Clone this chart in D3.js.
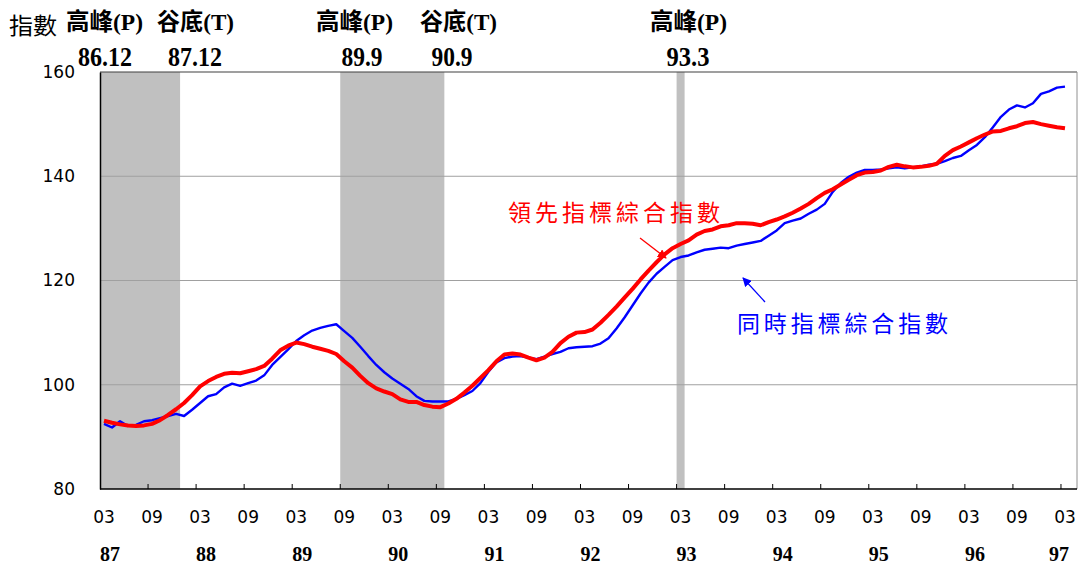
<!DOCTYPE html>
<html><head><meta charset="utf-8">
<script src="https://cdn.jsdelivr.net/npm/d3@7"></script>
<style>body{margin:0;background:#fff}svg{display:block}</style>
</head><body><svg id="c" width="1080" height="565"></svg>
<script>
// ---- data ----
const years = ["87","88","89","90","91","92","93","94","95","96","97"];
const monthTicks = ["03","09"];
const leading = [93.1,92.7,92.4,92.2,92.1,92.2,92.5,93.2,94.2,95.3,96.5,98.0,99.7,100.7,101.5,102.1,102.3,102.2,102.6,103.0,103.6,105.0,106.6,107.5,108.1,107.8,107.3,106.9,106.5,105.9,104.5,103.3,101.7,100.3,99.3,98.7,98.2,97.2,96.7,96.7,96.1,95.8,95.7,96.4,97.3,98.5,99.8,101.3,102.8,104.5,105.8,106.0,105.8,105.2,104.7,105.2,106.3,108.0,109.2,110.0,110.1,110.6,111.9,113.4,115.0,116.7,118.4,120.2,121.9,123.5,125.0,126.2,127.0,127.7,128.8,129.5,129.8,130.4,130.6,131.0,131.0,130.9,130.6,131.2,131.7,132.3,133.0,133.8,134.7,135.8,136.8,137.5,138.4,139.3,140.2,140.7,140.8,141.1,141.8,142.2,141.9,141.7,141.8,142.0,142.4,143.9,145.0,145.7,146.5,147.3,148.0,148.6,148.7,149.2,149.6,150.2,150.4,150.0,149.7,149.4,149.2];
const coincident = [92.5,91.8,93.0,92.1,92.3,93.0,93.2,93.6,94.0,94.4,94.0,95.2,96.5,97.8,98.2,99.5,100.2,99.8,100.3,100.8,101.8,103.8,105.3,106.8,108.4,109.5,110.4,110.9,111.3,111.6,110.3,109.0,107.3,105.5,103.8,102.4,101.2,100.2,99.2,97.8,96.9,96.8,96.8,96.8,97.3,98.0,98.8,100.3,102.5,104.3,105.1,105.4,105.5,105.2,104.9,105.4,105.9,106.3,107.0,107.2,107.3,107.4,107.9,108.9,110.8,112.9,115.2,117.5,119.6,121.3,122.6,123.9,124.5,124.8,125.4,125.9,126.1,126.3,126.2,126.7,127.0,127.3,127.6,128.6,129.6,131.0,131.5,131.9,132.8,133.6,134.7,137.0,138.7,139.9,140.7,141.2,141.2,141.3,141.5,141.7,141.5,141.7,141.9,142.2,142.4,142.9,143.5,143.9,145.0,146.0,147.5,149.4,151.4,152.8,153.6,153.2,154.0,155.8,156.3,157.0,157.2];
const yTicks = [80,100,120,140,160];
// turning points
const turnLabels = ["高峰(P)","谷底(T)","高峰(P)","谷底(T)","高峰(P)"];
const turnDates = ["86.12","87.12","89.9","90.9","93.3"];
const shadeRanges = [["87.03","87.12"],["89.09","90.09"],["93.03","93.03"]];
const leadName = "領先指標綜合指數";
const coinName = "同時指標綜合指數";

// months 87.03 .. 97.04 (last category empty)
const months = [];
for (let y = 87; y <= 97; y++) for (let m = 1; m <= 12; m++) {
  if ((y === 87 && m < 3) || (y === 97 && m > 4)) continue;
  months.push(y + "." + String(m).padStart(2, "0"));
}

const svg = d3.select("#c");
const L = 100, R = 1077, T = 72, B = 489;
const x = d3.scaleBand().domain(months).range([L, R]).padding(0);
const y = d3.scaleLinear().domain([80, 160]).range([B, T]);
const cx = k => x(k) + x.bandwidth() / 2;

// shading
svg.append("g").selectAll("rect").data(shadeRanges).join("rect")
  .attr("x", d => x(d[0])).attr("width", d => x(d[1]) + x.bandwidth() - x(d[0]))
  .attr("y", T).attr("height", B - T).attr("fill", "#c0c0c0");

// gridlines
svg.append("g").selectAll("line").data([100,120,140]).join("line")
  .attr("x1", L).attr("x2", R).attr("y1", d => y(d)).attr("y2", d => y(d))
  .attr("stroke", "#a0a0a0").attr("stroke-width", 1);
svg.append("line").attr("x1", L).attr("x2", R).attr("y1", y(160)).attr("y2", y(160)).attr("stroke", "#404040").attr("stroke-width", 1.2);
svg.append("line").attr("x1", R).attr("x2", R).attr("y1", T).attr("y2", B).attr("stroke", "#909090").attr("stroke-width", 1);

// lines
const line = d3.line().x((d, i) => cx(months[i])).y(d => y(d));
svg.append("path").datum(coincident).attr("d", line).attr("fill", "none").attr("stroke", "#0000ff").attr("stroke-width", 2.4).attr("stroke-linejoin", "round");
svg.append("path").datum(leading).attr("d", line).attr("fill", "none").attr("stroke", "#ff0000").attr("stroke-width", 4).attr("stroke-linejoin", "round");

// y axis
const yAxis = svg.append("g").attr("transform", `translate(${L},0)`)
  .call(d3.axisLeft(y).tickValues(yTicks).tickSize(0).tickPadding(25));
yAxis.select(".domain").attr("stroke", "#000").attr("stroke-width", 1.5);
yAxis.selectAll("text").attr("font-family", "DejaVu Sans, Verdana, sans-serif").attr("font-size", 17).attr("fill", "#000");

// x axis
const tickMonths = months.filter((k, i) => i % 6 === 0 && i <= 120);
const xg = svg.append("g");
xg.append("line").attr("x1", L).attr("x2", R).attr("y1", B).attr("y2", B).attr("stroke", "#000").attr("stroke-width", 1.5);
xg.selectAll("line.t").data(tickMonths.slice(1)).join("line").attr("class", "t")
  .attr("x1", d => x(d)).attr("x2", d => x(d)).attr("y1", B).attr("y2", B - 5).attr("stroke", "#000");
xg.selectAll("text.m").data(tickMonths).join("text").attr("class", "m")
  .attr("x", d => cx(d)).attr("y", 523).attr("text-anchor", "middle")
  .attr("font-family", "DejaVu Sans, Verdana, sans-serif").attr("font-size", 17)
  .text((d, i) => monthTicks[i % 2]);
xg.selectAll("text.yr").data(years).join("text").attr("class", "yr")
  .attr("x", d => cx(d + ".03") + (d === "97" ? -6 : 6)).attr("y", 561).attr("text-anchor", "middle")
  .attr("font-family", "Liberation Serif, serif").attr("font-weight", "bold").attr("font-size", 20)
  .text(d => d);

// header labels
svg.append("text").attr("x", 9).attr("y", 34).attr("font-family", "Noto Sans CJK TC").attr("font-size", 23).attr("fill", "#000")
  .attr("textLength", 48).attr("lengthAdjust", "spacingAndGlyphs").text("指數");
const turnX = [104, 195, 354, 458, 688];
svg.selectAll("text.tl").data(turnLabels).join("text").attr("class", "tl")
  .attr("x", (d, i) => turnX[i] - 38).attr("y", 30)
  .attr("font-family", "Liberation Serif, 'Noto Sans CJK TC', serif").attr("font-weight", "bold").attr("font-size", 24)
  .attr("textLength", 77).attr("lengthAdjust", "spacingAndGlyphs")
  .text(d => d);
const dateX = [105, 195, 362, 452, 688];
const dateW = [54, 54, 41, 41, 43];
svg.selectAll("text.td").data(turnDates).join("text").attr("class", "td")
  .attr("x", (d, i) => dateX[i] - dateW[i] / 2).attr("y", 66)
  .attr("font-family", "Liberation Serif, serif").attr("font-weight", "bold").attr("font-size", 27)
  .attr("textLength", (d, i) => dateW[i]).attr("lengthAdjust", "spacingAndGlyphs")
  .text(d => d);

// series annotations
svg.append("text").attr("x", 508).attr("y", 221).attr("font-family", "Noto Sans CJK TC").attr("font-size", 23).attr("fill", "#ff0000")
  .attr("textLength", 212).attr("lengthAdjust", "spacing").text(leadName);
svg.append("text").attr("x", 737).attr("y", 332).attr("font-family", "Noto Sans CJK TC").attr("font-size", 23).attr("fill", "#0000ff")
  .attr("textLength", 211).attr("lengthAdjust", "spacing").text(coinName);
const defs = svg.append("defs");
[["ar", "#ff0000"], ["ab", "#0000ff"]].forEach(([id, c]) => {
  defs.append("marker").attr("id", id).attr("viewBox", "0 0 10 10").attr("refX", 9).attr("refY", 5)
    .attr("markerWidth", 7).attr("markerHeight", 7).attr("orient", "auto")
    .append("path").attr("d", "M0,0 L10,5 L0,10 z").attr("fill", c);
});
svg.append("line").attr("x1", 640).attr("y1", 238).attr("x2", 666).attr("y2", 258).attr("stroke", "#ff0000").attr("stroke-width", 1.3).attr("marker-end", "url(#ar)");
svg.append("line").attr("x1", 765).attr("y1", 302).attr("x2", 743).attr("y2", 278).attr("stroke", "#0000ff").attr("stroke-width", 1.3).attr("marker-end", "url(#ab)");
</script></body></html>
